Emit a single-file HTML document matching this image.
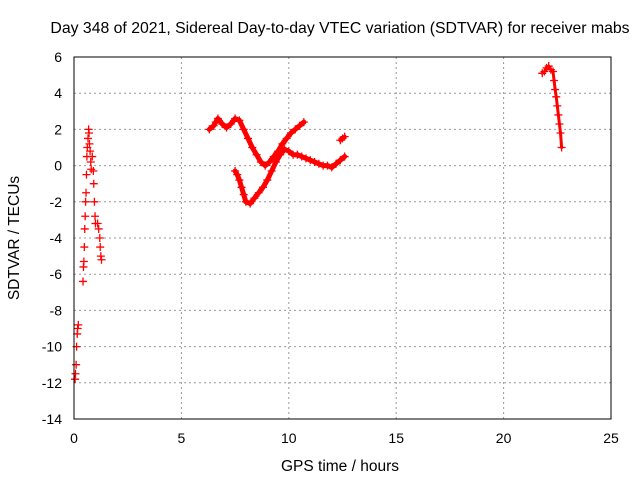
<!DOCTYPE html>
<html><head><meta charset="utf-8"><style>
body{margin:0;background:#fff}
svg{display:block;font-family:"Liberation Sans",sans-serif}
</style></head><body>
<svg id="c" width="640" height="480">
<text x="340" y="33" text-anchor="middle" font-size="15.8">Day 348 of 2021, Sidereal Day-to-day VTEC variation (SDTVAR) for receiver mabs</text>
<text x="340" y="471" text-anchor="middle" font-size="15.5">GPS time / hours</text>
<text transform="translate(19,238) rotate(-90)" text-anchor="middle" font-size="15.5">SDTVAR / TECUs</text>
<g id="grid"></g><g id="marks"></g>
<rect x="74" y="57" width="537" height="362" fill="none" stroke="#000"/>
</svg>
<script>
const xTicks=[0,5,10,15,20,25];
const yTicks=[-14,-12,-10,-8,-6,-4,-2,0,2,4,6];
const segEarly1Hours=[0.05,0.07,0.1,0.12,0.15,0.17,0.2];
const segEarly1Vals=[-11.8,-11.5,-11,-10,-9.3,-9,-8.8];
const segEarly2Hours=[0.42,0.44,0.46,0.48,0.5,0.52,0.54,0.56,0.58,0.6,0.62,0.65,0.68,0.7,0.72,0.75,0.78,0.8];
const segEarly2Vals=[-6.4,-5.6,-5.3,-4.5,-3.5,-2.8,-2,-1.5,-0.5,0.5,1.0,1.5,2.0,1.8,1.2,0.8,0.2,-0.2];
const segEarly3Hours=[0.85,0.9,0.92,0.95,0.98,1.0,1.1,1.15,1.2,1.22,1.25,1.28];
const segEarly3Vals=[0.5,-0.3,-1,-2,-2.8,-3.2,-3.2,-3.5,-4,-4.5,-5,-5.2];
const arc1Hours=[6.3,6.5,6.6,6.7,6.9,7.1,7.3,7.5,7.7,7.9,8.1,8.3,8.5,8.7,8.9,9.1,9.3,9.5,9.7,9.9,10.1,10.3,10.5,10.7];
const arc1Vals=[2.0,2.2,2.4,2.6,2.3,2.1,2.3,2.6,2.5,2.0,1.5,1.0,0.6,0.2,0.0,0.2,0.5,0.8,1.2,1.5,1.8,2.0,2.2,2.4];
const arc2Hours=[7.5,7.6,7.7,7.8,7.9,8.0,8.2,8.4,8.6,8.8,9.0,9.2,9.4,9.6,9.8,10.0,10.2,10.4,10.6,10.8,11.0,11.2,11.4,11.6,11.8,12.0,12.2,12.4,12.6];
const arc2Vals=[-0.3,-0.5,-0.8,-1.2,-1.6,-2.0,-2.1,-1.8,-1.5,-1.2,-0.8,-0.3,0.2,0.6,0.9,0.8,0.6,0.6,0.5,0.4,0.3,0.2,0.1,0.0,0.0,-0.1,0.1,0.3,0.5];
const segIsoHours=[12.4,12.5,12.6];
const segIsoVals=[1.4,1.5,1.6];
const lateHours=[21.8,21.9,22.0,22.1,22.2,22.3,22.35,22.4,22.45,22.5,22.55,22.6,22.65,22.7];
const lateVals=[5.1,5.2,5.4,5.5,5.3,5.2,4.7,4.2,3.8,3.3,2.8,2.3,1.8,1.0];
const segments=[[segEarly1Hours,segEarly1Vals,0],[segEarly2Hours,segEarly2Vals,0],[segEarly3Hours,segEarly3Vals,0],[arc1Hours,arc1Vals,5],[arc2Hours,arc2Vals,5],[segIsoHours,segIsoVals,4],[lateHours,lateVals,3]];
const NS="http://www.w3.org/2000/svg";
const xs=h=>74+h*537/25;
const ys=v=>57+(6-v)*362/20;
const grid=document.getElementById('grid'),marks=document.getElementById('marks');
function mk(t,a,p){const e=document.createElementNS(NS,t);for(const k in a)e.setAttribute(k,a[k]);p.appendChild(e);return e;}
xTicks.forEach(t=>{
 const l=mk('line',{x1:xs(t),x2:xs(t),y1:57,y2:419,stroke:'#999','stroke-dasharray':'2,3'},grid);
 
 
 const tx=mk('text',{x:xs(t),y:443,'text-anchor':'middle','font-size':14},grid);tx.textContent=t;
 
 
});
yTicks.forEach(t=>{
 const l=mk('line',{x1:74,x2:611,y1:ys(t),y2:ys(t),stroke:'#999','stroke-dasharray':'2,3'},grid);
 
 
 const tx=mk('text',{x:62,y:ys(t)+5,'text-anchor':'end','font-size':14},grid);tx.textContent=t;
 
 
});
segments.forEach(([hs,vs,w])=>{
 if(w>0){
 const pl=mk('polyline',{points:hs.map((h,i)=>xs(h)+','+ys(vs[i])).join(' '),fill:'none',stroke:'#f00','stroke-width':w,'stroke-linejoin':'round','stroke-linecap':'round'},marks);
 
 
 }
 hs.forEach((h,i)=>{
  const x=xs(h),y=ys(vs[i]);
  const p=mk('path',{d:`M${x-4},${y}H${x+4}M${x},${y-4}V${y+4}`,stroke:'#f00','stroke-width':1.3},marks);
  
  
 });
});
</script>
</body></html>
